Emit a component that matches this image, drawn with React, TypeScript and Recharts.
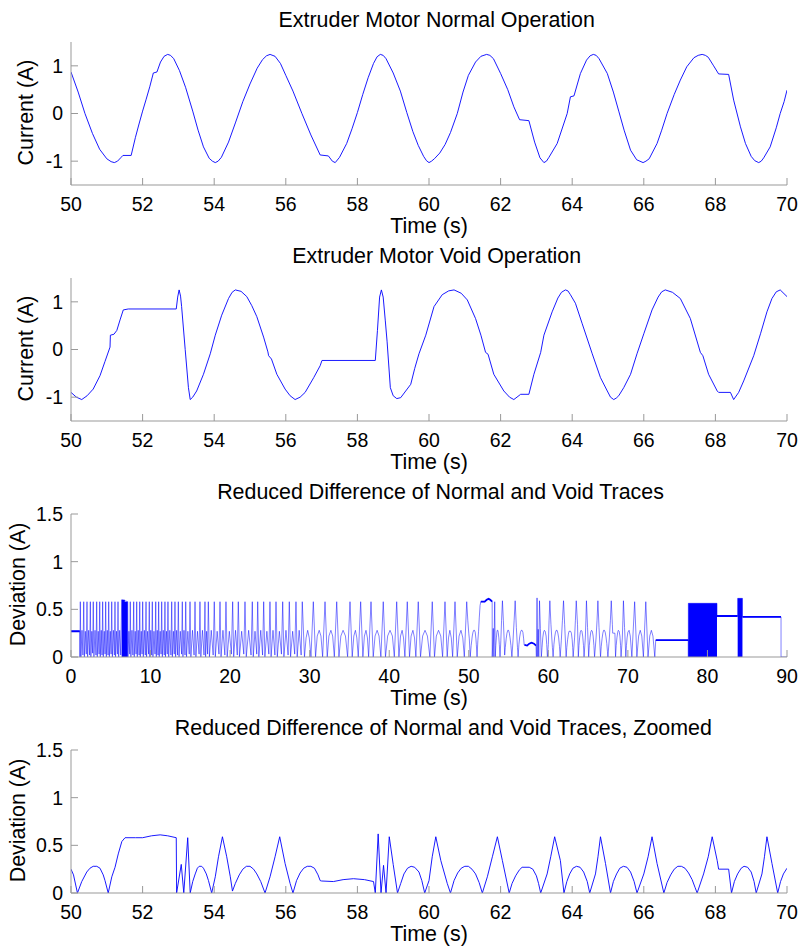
import { ComposedChart, Line, Area, XAxis, YAxis } from 'recharts'

type Pair = [number, number | null]

// time (s), current (A)
const normalCurrent: Pair[] = [
  [50.0, 0.87], [50.2, 0.45], [50.39, 0.0], [50.6, -0.42], [50.8, -0.75], [51.0, -0.95], [51.12, -1.01],
  [51.21, -1.03], [51.3, -1.0], [51.4, -0.92], [51.45, -0.88], [51.68, -0.88], [51.8, -0.5], [51.9, -0.22],
  [52.0, 0.05], [52.1, 0.3], [52.2, 0.56], [52.3, 0.85], [52.4, 0.87], [52.5, 1.08], [52.6, 1.2], [52.7, 1.24],
  [52.78, 1.22], [52.87, 1.15], [53.03, 0.9], [53.2, 0.55], [53.4, 0.05], [53.55, -0.35], [53.7, -0.7],
  [53.86, -0.94], [53.95, -1.0], [54.03, -1.03], [54.11, -1.0], [54.2, -0.92], [54.4, -0.6], [54.6, -0.18],
  [54.8, 0.25], [55.0, 0.62], [55.2, 0.95], [55.35, 1.13], [55.46, 1.21], [55.56, 1.24], [55.7, 1.2],
  [55.85, 1.05], [56.0, 0.8], [56.2, 0.47], [56.45, 0.0], [56.7, -0.45], [56.96, -0.87], [57.19, -0.89],
  [57.3, -1.0], [57.38, -1.03], [57.5, -0.92], [57.7, -0.63], [57.85, -0.32], [58.0, 0.02], [58.15, 0.4],
  [58.3, 0.75], [58.45, 1.05], [58.55, 1.19], [58.64, 1.24], [58.72, 1.22], [58.8, 1.15], [59.0, 0.85],
  [59.2, 0.47], [59.38, 0.02], [59.55, -0.38], [59.7, -0.67], [59.85, -0.9], [59.93, -0.99], [60.0, -1.03],
  [60.07, -1.0], [60.15, -0.95], [60.3, -0.83], [60.45, -0.65], [60.6, -0.4], [60.79, 0.0], [60.95, 0.45],
  [61.1, 0.8], [61.3, 1.08], [61.45, 1.2], [61.61, 1.24], [61.7, 1.22], [61.8, 1.15], [62.0, 0.84],
  [62.2, 0.5], [62.37, 0.14], [62.53, -0.13], [62.79, -0.15], [62.95, -0.6], [63.1, -0.93], [63.21, -1.03],
  [63.28, -1.0], [63.35, -0.92], [63.58, -0.63], [63.86, 0.0], [63.95, 0.35], [64.05, 0.37], [64.23, 0.84],
  [64.4, 1.12], [64.5, 1.21], [64.59, 1.24], [64.67, 1.22], [64.75, 1.15], [64.98, 0.84], [65.15, 0.45],
  [65.3, 0.05], [65.45, -0.35], [65.63, -0.77], [65.8, -0.97], [65.98, -1.03], [66.06, -1.0], [66.15, -0.95],
  [66.37, -0.63], [66.5, -0.35], [66.65, 0.0], [66.85, 0.4], [67.02, 0.7], [67.2, 0.98], [67.4, 1.17],
  [67.52, 1.22], [67.63, 1.24], [67.72, 1.22], [67.8, 1.18], [67.95, 1.0], [68.09, 0.83], [68.37, 0.82],
  [68.51, 0.28], [68.7, -0.28], [68.84, -0.63], [69.0, -0.9], [69.1, -0.99], [69.21, -1.03], [69.28, -1.0],
  [69.35, -0.93], [69.53, -0.7], [69.7, -0.3], [69.81, 0.0], [69.92, 0.25], [70.0, 0.49],
]

const voidCurrent: Pair[] = [
  [50.0, -0.9], [50.15, -1.0], [50.3, -1.05], [50.45, -0.97], [50.62, -0.83], [50.81, -0.55], [50.95, -0.25],
  [51.09, 0.05], [51.1, 0.3], [51.2, 0.32], [51.28, 0.4], [51.37, 0.62], [51.46, 0.83], [51.6, 0.85],
  [52.94, 0.85], [52.98, 1.1], [53.02, 1.25], [53.06, 1.12], [53.09, 0.9], [53.19, 0.0], [53.28, -0.8],
  [53.33, -1.05], [53.4, -1.0], [53.51, -0.87], [53.7, -0.52], [53.89, -0.09], [54.03, 0.3], [54.21, 0.72],
  [54.4, 1.07], [54.5, 1.2], [54.59, 1.25], [54.75, 1.22], [54.91, 1.11], [55.05, 0.92], [55.19, 0.69],
  [55.38, 0.26], [55.5, -0.05], [55.52, -0.13], [55.6, -0.2], [55.75, -0.52], [55.98, -0.83], [56.12, -0.97],
  [56.26, -1.05], [56.4, -1.0], [56.54, -0.9], [56.78, -0.59], [56.96, -0.34], [57.01, -0.23], [58.5, -0.23],
  [58.56, 0.4], [58.62, 1.1], [58.67, 1.25], [58.72, 1.1], [58.78, 0.6], [58.83, 0.16], [58.92, -0.8],
  [59.0, -0.97], [59.1, -1.03], [59.21, -1.01], [59.49, -0.73], [59.6, -0.4], [59.72, -0.09], [59.91, 0.3],
  [60.14, 0.9], [60.37, 1.15], [60.55, 1.23], [60.7, 1.25], [60.9, 1.18], [61.07, 1.04], [61.3, 0.65],
  [61.45, 0.3], [61.58, -0.06], [61.65, -0.1], [61.81, -0.52], [62.09, -0.87], [62.25, -1.0], [62.37, -1.05],
  [62.56, -0.94], [62.79, -0.94], [62.93, -0.52], [63.12, -0.06], [63.21, 0.3], [63.44, 0.79], [63.6, 1.08],
  [63.7, 1.2], [63.81, 1.25], [63.88, 1.23], [63.95, 1.15], [64.09, 0.97], [64.28, 0.54], [64.56, -0.09],
  [64.79, -0.59], [64.98, -0.87], [65.07, -1.0], [65.16, -1.05], [65.23, -1.02], [65.3, -0.97], [65.44, -0.8],
  [65.63, -0.52], [65.81, -0.09], [66.0, 0.33], [66.23, 0.83], [66.4, 1.1], [66.5, 1.21], [66.6, 1.25],
  [66.8, 1.2], [67.02, 1.07], [67.3, 0.65], [67.58, -0.06], [67.65, -0.13], [67.81, -0.52], [68.05, -0.87],
  [68.09, -0.9], [68.42, -0.9], [68.51, -1.05], [68.65, -0.9], [68.79, -0.66], [69.07, -0.13], [69.26, 0.33],
  [69.44, 0.79], [69.58, 1.07], [69.7, 1.21], [69.81, 1.25], [70.0, 1.11],
]

// deviation, 50-70 s window (also part of the full trace)
const deviationZoomed: Pair[] = [
  [50.0, 0.25], [50.07, 0.19], [50.18, 0.0], [50.3, 0.12], [50.44, 0.22], [50.53, 0.26], [50.62, 0.28],
  [50.72, 0.28], [50.81, 0.26], [50.9, 0.19], [50.95, 0.13], [51.04, 0.0], [51.14, 0.17], [51.23, 0.27],
  [51.32, 0.41], [51.42, 0.54], [51.51, 0.58], [51.8, 0.58], [52.0, 0.58], [52.25, 0.6], [52.49, 0.61],
  [52.7, 0.6], [52.94, 0.58], [52.95, 0.0], [53.08, 0.3], [53.15, 0.0], [53.26, 0.58], [53.33, 0.0],
  [53.4, 0.12], [53.47, 0.2], [53.53, 0.26], [53.58, 0.28], [53.65, 0.28], [53.7, 0.26], [53.78, 0.2],
  [53.84, 0.13], [53.93, 0.0], [54.03, 0.17], [54.12, 0.38], [54.23, 0.59], [54.35, 0.38], [54.45, 0.17],
  [54.51, 0.02], [54.59, 0.1], [54.7, 0.19], [54.8, 0.25], [54.9, 0.28], [55.0, 0.28], [55.1, 0.25],
  [55.19, 0.2], [55.3, 0.12], [55.42, 0.0], [55.56, 0.17], [55.7, 0.38], [55.83, 0.59], [55.98, 0.31],
  [56.12, 0.1], [56.2, 0.0], [56.3, 0.13], [56.4, 0.21], [56.5, 0.26], [56.6, 0.28], [56.7, 0.28],
  [56.8, 0.26], [56.9, 0.19], [56.96, 0.13], [57.0, 0.126], [57.33, 0.12], [57.6, 0.14], [57.89, 0.15],
  [58.2, 0.14], [58.45, 0.12], [58.5, 0.0], [58.58, 0.62], [58.66, 0.0], [58.73, 0.29], [58.8, 0.0],
  [58.89, 0.59], [59.0, 0.3], [59.12, 0.0], [59.21, 0.1], [59.3, 0.2], [59.4, 0.26], [59.5, 0.28],
  [59.6, 0.27], [59.72, 0.22], [59.8, 0.13], [59.88, 0.0],
  [60.0, 0.13], [60.09, 0.38], [60.19, 0.59], [60.33, 0.34], [60.51, 0.1], [60.6, 0.0],
  [60.7, 0.13], [60.8, 0.21], [60.9, 0.26], [61.0, 0.28], [61.1, 0.28], [61.2, 0.25], [61.3, 0.2],
  [61.4, 0.11], [61.49, 0.0],
  [61.63, 0.17], [61.77, 0.38], [61.91, 0.59], [62.05, 0.34], [62.24, 0.0],
  [62.32, 0.1], [62.42, 0.18], [62.52, 0.24], [62.6, 0.27], [62.8, 0.27], [62.9, 0.25], [63.0, 0.18],
  [63.06, 0.1], [63.12, 0.0],
  [63.3, 0.2], [63.4, 0.38], [63.51, 0.59], [63.67, 0.34], [63.77, 0.0],
  [63.85, 0.12], [63.93, 0.2], [64.02, 0.26], [64.12, 0.28], [64.22, 0.27], [64.32, 0.22], [64.42, 0.12],
  [64.49, 0.0],
  [64.65, 0.2], [64.72, 0.38], [64.79, 0.59], [64.93, 0.31], [65.07, 0.0],
  [65.15, 0.12], [65.24, 0.2], [65.33, 0.26], [65.43, 0.28], [65.53, 0.27], [65.63, 0.22], [65.73, 0.12],
  [65.81, 0.0],
  [66.0, 0.2], [66.12, 0.38], [66.23, 0.59], [66.37, 0.31], [66.56, 0.0],
  [66.65, 0.11], [66.75, 0.19], [66.85, 0.25], [66.95, 0.28], [67.05, 0.28], [67.15, 0.26], [67.25, 0.21],
  [67.35, 0.14], [67.43, 0.06], [67.49, 0.0],
  [67.67, 0.2], [67.8, 0.38], [67.91, 0.59], [68.05, 0.34], [68.09, 0.25], [68.37, 0.25], [68.45, 0.0],
  [68.53, 0.12], [68.62, 0.2], [68.72, 0.26], [68.8, 0.28], [68.9, 0.27], [69.0, 0.22], [69.08, 0.12],
  [69.14, 0.0],
  [69.3, 0.2], [69.37, 0.38], [69.44, 0.59], [69.58, 0.31], [69.74, 0.0],
  [69.82, 0.12], [69.9, 0.2], [70.0, 0.26],
]

// deviation before the zoom window
const deviationHead: Pair[] = [
  [0, 0.27], [1.1, 0.27], [1.12, 0],
  [1.17, 0.58], [1.25, 0], [1.38, 0.28], [1.5, 0.02],
  [1.6, 0.58], [1.68, 0], [1.8, 0.27], [1.92, 0.03],
  [2.01, 0.58], [2.09, 0], [2.22, 0.28], [2.34, 0.02],
  [2.43, 0.58], [2.5, 0], [2.62, 0.27], [2.72, 0.04],
  [2.8, 0.58], [2.88, 0], [3.02, 0.28], [3.14, 0.02],
  [3.23, 0.58], [3.3, 0], [3.42, 0.27], [3.53, 0.03],
  [3.61, 0.58], [3.68, 0], [3.8, 0.28], [3.9, 0.02],
  [3.98, 0.58], [4.06, 0], [4.18, 0.27], [4.28, 0.03],
  [4.36, 0.58], [4.44, 0], [4.56, 0.28], [4.66, 0.02],
  [4.74, 0.58], [4.82, 0], [4.94, 0.27], [5.04, 0.03],
  [5.12, 0.58], [5.2, 0], [5.33, 0.28], [5.45, 0.02],
  [5.53, 0.58], [5.6, 0], [5.72, 0.27], [5.83, 0.03],
  [5.91, 0.58], [5.99, 0], [6.12, 0.28], [6.25, 0.02],
  [6.37, 0.6], [7.13, 0.58], [7.16, 0], [7.28, 0.27], [7.38, 0.03],
  [7.45, 0.58], [7.53, 0], [7.66, 0.28], [7.78, 0.02],
  [7.88, 0.58], [7.95, 0], [8.07, 0.27], [8.18, 0.03],
  [8.26, 0.58], [8.33, 0], [8.45, 0.28], [8.56, 0.02],
  [8.64, 0.58], [8.71, 0], [8.83, 0.27], [8.93, 0.03],
  [9.01, 0.58], [9.09, 0], [9.22, 0.28], [9.34, 0.02],
  [9.43, 0.58], [9.5, 0], [9.63, 0.27], [9.75, 0.03],
  [9.84, 0.58], [9.91, 0], [10.03, 0.28], [10.14, 0.02],
  [10.22, 0.58], [10.3, 0], [10.43, 0.27], [10.56, 0.03],
  [10.65, 0.58], [10.72, 0], [10.84, 0.28], [10.94, 0.02],
  [11.02, 0.58], [11.09, 0], [11.21, 0.27], [11.32, 0.03],
  [11.4, 0.58], [11.48, 0], [11.6, 0.28], [11.72, 0.02],
  [11.81, 0.58], [11.88, 0], [12.0, 0.27], [12.1, 0.03],
  [12.19, 0.58], [12.28, 0], [12.42, 0.28], [12.56, 0.02],
  [12.66, 0.58], [12.74, 0], [12.87, 0.27], [12.98, 0.03],
  [13.07, 0.58], [13.15, 0], [13.28, 0.28], [13.4, 0.02],
  [13.49, 0.58], [13.58, 0], [13.74, 0.27], [13.9, 0.03],
  [13.99, 0.58], [14.07, 0], [14.2, 0.28], [14.33, 0.02],
  [14.42, 0.58], [14.52, 0], [14.69, 0.27], [14.86, 0.03],
  [14.96, 0.58], [15.07, 0], [15.27, 0.28], [15.47, 0.02],
  [15.59, 0.58], [15.7, 0], [15.9, 0.27], [16.1, 0.03],
  [16.21, 0.58], [16.32, 0], [16.52, 0.28], [16.72, 0.02],
  [16.84, 0.58], [16.92, 0], [17.05, 0.27], [17.17, 0.03],
  [17.26, 0.58], [17.4, 0], [17.63, 0.28], [17.87, 0.02],
  [18.01, 0.58], [18.14, 0], [18.37, 0.27], [18.6, 0.03],
  [18.73, 0.58], [18.86, 0], [19.1, 0.28], [19.34, 0.02],
  [19.48, 0.58], [19.63, 0], [19.9, 0.27], [20.16, 0.03],
  [20.32, 0.58], [20.45, 0], [20.68, 0.28], [20.9, 0.02],
  [21.03, 0.58], [21.18, 0], [21.45, 0.27], [21.72, 0.03],
  [21.87, 0.58], [22.03, 0], [22.33, 0.28], [22.63, 0.02],
  [22.79, 0.58], [22.91, 0], [23.13, 0.27], [23.35, 0.03],
  [23.47, 0.58], [23.61, 0], [23.85, 0.28], [24.08, 0.02],
  [24.22, 0.58], [24.37, 0], [24.62, 0.27], [24.87, 0.03],
  [25.01, 0.58], [25.15, 0], [25.39, 0.28], [25.63, 0.02],
  [25.77, 0.58], [25.93, 0], [26.19, 0.27], [26.45, 0.03],
  [26.61, 0.58], [26.76, 0], [27.02, 0.28], [27.29, 0.02],
  [27.44, 0.58], [27.6, 0], [27.86, 0.27], [28.12, 0.03],
  [28.28, 0.58], [28.43, 0], [28.68, 0.28], [28.93, 0.02],
  [29.07, 0.58], [29.35, 0], [29.55, 0.2], [29.75, 0.28], [29.95, 0.2], [30.16, 0],
  [30.46, 0.58], [30.74, 0], [30.95, 0.22], [31.2, 0.28], [31.42, 0.22], [31.63, 0],
  [31.93, 0.58], [32.21, 0], [32.42, 0.22], [32.67, 0.28], [32.89, 0.22], [33.1, 0],
  [33.4, 0.58], [33.68, 0], [33.92, 0.22], [34.2, 0.28], [34.5, 0.22], [34.77, 0],
  [35.07, 0.58], [35.35, 0], [35.55, 0.22], [35.75, 0.28], [35.93, 0.2], [36.11, 0],
  [36.41, 0.58], [36.69, 0], [36.88, 0.22], [37.08, 0.28], [37.26, 0.2], [37.41, 0],
  [37.71, 0.58], [37.99, 0], [38.22, 0.22], [38.48, 0.28], [38.72, 0.22], [38.95, 0],
  [39.25, 0.58], [39.53, 0], [39.8, 0.22], [40.1, 0.28], [40.4, 0.22], [40.64, 0],
  [40.94, 0.58], [41.22, 0], [41.42, 0.22], [41.62, 0.28], [41.8, 0.2], [41.97, 0],
  [42.27, 0.58], [42.55, 0], [42.75, 0.22], [42.98, 0.28], [43.18, 0.2], [43.35, 0],
  [43.65, 0.58], [43.93, 0], [44.2, 0.22], [44.5, 0.28], [44.8, 0.22], [45.11, 0],
  [45.41, 0.58], [45.69, 0], [45.92, 0.22], [46.2, 0.28], [46.48, 0.22], [46.71, 0],
  [47.01, 0.58], [47.29, 0], [47.45, 0.2], [47.62, 0.28], [47.8, 0.2], [47.97, 0],
  [48.27, 0.58], [48.55, 0], [48.78, 0.22], [49.02, 0.28], [49.25, 0.2], [49.44, 0],
  [49.74, 0.58], [49.88, 0.38],
]

// deviation after the zoom window
const deviationTail: Pair[] = [
  [70.15, 0.28], [70.3, 0.22], [70.5, 0], [70.85, 0.58], [71.13, 0], [71.35, 0.22], [71.55, 0.28],
  [71.75, 0.22], [71.95, 0], [72.25, 0.58], [72.53, 0], [72.75, 0.22], [72.95, 0.28], [73.15, 0.22],
  [73.38, 0], [73.5, 0.176], [77.6, 0.176], [77.6, 0], [77.6, 0.563], [81.2, 0.563], [81.2, 0.43],
  [83.8, 0.43], [83.8, 0.615], [84.4, 0.615], [84.4, 0.42], [89.25, 0.42], [89.25, 0], [90, 0],
]

// stretches where the trace oscillates too fast to resolve and prints solid
const denseBands: Pair[] = [
  [6.37, 0.6], [6.76, 0.6], [6.76, 0.58], [7.13, 0.58], [7.14, null],
  [77.6, 0.563], [81.2, 0.563], [81.21, null],
  [83.8, 0.615], [84.4, 0.615],
]

// flat stretches where the sample markers pile up into a heavy line
const deviationPlateaus: Pair[] = [
  [0, 0.27], [1.1, 0.27], [1.11, null],
  [51.51, 0.58], [52.0, 0.58], [52.25, 0.6], [52.49, 0.61], [52.7, 0.6], [52.94, 0.58], [52.95, null],
  [57.0, 0.126], [57.33, 0.12], [57.6, 0.14], [57.89, 0.15], [58.2, 0.14], [58.45, 0.12], [58.46, null],
  [73.5, 0.176], [77.6, 0.176], [77.61, null],
  [81.2, 0.43], [83.8, 0.43], [83.81, null],
  [84.4, 0.42], [89.25, 0.42],
]

const deviationFull: Pair[] = [...deviationHead, ...deviationZoomed, ...deviationTail]

const panelTitles = [
  'Extruder Motor Normal Operation',
  'Extruder Motor Void Operation',
  'Reduced Difference of Normal and Void Traces',
  'Reduced Difference of Normal and Void Traces, Zoomed',
]
const yLabels = ['Current (A)', 'Current (A)', 'Deviation (A)', 'Deviation (A)']
const xLabel = 'Time (s)'

const zoomTicks = [50, 52, 54, 56, 58, 60, 62, 64, 66, 68, 70]
const fullTicks = [0, 10, 20, 30, 40, 50, 60, 70, 80, 90]
const currentTicks = [-1, 0, 1]
const deviationTicks = [0, 0.5, 1, 1.5]

const FONT = '"Liberation Sans", Arial, Helvetica, sans-serif'
const AXIS_GRAY = '#999999'
const TRACE = '#0000ff'
const STEP = 236
const TICK_FONT = { fill: '#000', fontSize: 19.5, fontFamily: FONT }

const toPoints = (pairs: Pair[]) => pairs.map(([t, v]) => ({ t, v }))
const noTick = () => <g />

interface PanelProps {
  index: number
  xDomain: [number, number]
  xTicks: number[]
  yDomain: [number, number]
  yTicks: number[]
  trace: Pair[]
  bands?: Pair[]
  plateaus?: Pair[]
  traceWidth?: number
}

function Panel({ index, xDomain, xTicks, yDomain, yTicks, trace, bands, plateaus, traceWidth = 1 }: PanelProps) {
  const data = toPoints(trace)
  return (
    <div style={{ position: 'absolute', left: 0, top: index * STEP, width: 801, height: STEP }}>
      <ComposedChart width={801} height={STEP} margin={{ top: 42, right: 14, bottom: 0, left: 0 }}>
        <XAxis xAxisId="b" dataKey="t" type="number" domain={xDomain} ticks={xTicks} interval={0}
          allowDataOverflow height={51} tickSize={-7} tickMargin={19} stroke={AXIS_GRAY} tick={TICK_FONT} />
        <XAxis xAxisId="t" orientation="top" dataKey="t" type="number" domain={xDomain} ticks={xTicks}
          interval={0} allowDataOverflow height={0} tickSize={-7} stroke={AXIS_GRAY} tick={noTick} />
        <YAxis yAxisId="l" type="number" domain={yDomain} ticks={yTicks} interval={0} allowDataOverflow
          width={71} tickSize={-7} tickMargin={15} stroke={AXIS_GRAY} tick={TICK_FONT} />
        <YAxis yAxisId="r" orientation="right" type="number" domain={yDomain} ticks={yTicks} interval={0}
          allowDataOverflow width={0} tickSize={-7} stroke={AXIS_GRAY} tick={noTick} />
        {bands && (
          <Area xAxisId="b" yAxisId="l" data={toPoints(bands)} dataKey="v" type="linear" stroke="none"
            fill={TRACE} fillOpacity={1} isAnimationActive={false} />
        )}
        <Line xAxisId="b" yAxisId="l" data={data} dataKey="v" type="linear" stroke={TRACE}
          strokeWidth={traceWidth} dot={false} isAnimationActive={false} />
        {plateaus && (
          <Line xAxisId="b" yAxisId="l" data={toPoints(plateaus)} dataKey="v" type="linear" stroke={TRACE}
            strokeWidth={1.8} dot={false} isAnimationActive={false} />
        )}
        <Line xAxisId="t" yAxisId="r" data={data} dataKey="v" stroke="none" dot={false}
          isAnimationActive={false} />
      </ComposedChart>
    </div>
  )
}

// title centre x, y-label baseline x
const titleX = [436.7, 436.7, 440.5, 443.3]
const yLabelX = [33, 33, 25, 25]

export default function App() {
  return (
    <div style={{ position: 'absolute', left: 0, top: 0, width: 801, height: 952, background: '#fff' }}>
      <Panel index={0} xDomain={[50, 70]} xTicks={zoomTicks} yDomain={[-1.5, 1.5]} yTicks={currentTicks}
        trace={normalCurrent} traceWidth={0.9} />
      <Panel index={1} xDomain={[50, 70]} xTicks={zoomTicks} yDomain={[-1.5, 1.5]} yTicks={currentTicks}
        trace={voidCurrent} traceWidth={0.9} />
      <Panel index={2} xDomain={[0, 90]} xTicks={fullTicks} yDomain={[0, 1.5]} yTicks={deviationTicks}
        trace={deviationFull} bands={denseBands} plateaus={deviationPlateaus} traceWidth={0.5} />
      <Panel index={3} xDomain={[50, 70]} xTicks={zoomTicks} yDomain={[0, 1.5]} yTicks={deviationTicks}
        trace={deviationZoomed} traceWidth={0.9} />
      <svg width={801} height={952} style={{ position: 'absolute', left: 0, top: 0, pointerEvents: 'none' }}
        fontFamily={FONT} fontSize={21.4} fill="#000">
        {panelTitles.map((title, i) => (
          <text key={`t${i}`} x={titleX[i]} y={i * STEP + 27} textAnchor="middle">{title}</text>
        ))}
        {panelTitles.map((_, i) => (
          <text key={`x${i}`} x={429} y={i * STEP + 232.5} textAnchor="middle">{xLabel}</text>
        ))}
        {yLabels.map((label, i) => (
          <text key={`y${i}`} x={yLabelX[i]} y={i * STEP + 112.5} textAnchor="middle"
            transform={`rotate(-90 ${yLabelX[i]} ${i * STEP + 112.5})`}>{label}</text>
        ))}
      </svg>
    </div>
  )
}
